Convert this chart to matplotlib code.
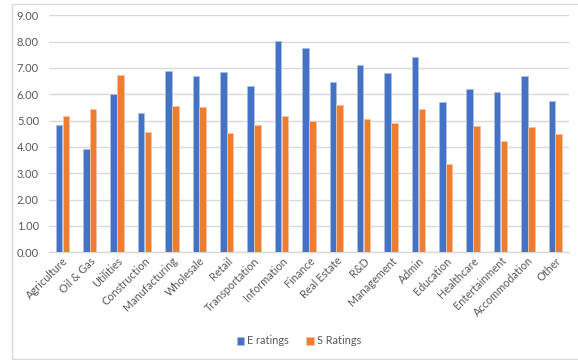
import matplotlib
matplotlib.use("Agg")
import matplotlib.pyplot as plt
from matplotlib.patches import Rectangle
import numpy as np

plt.rcParams['font.family'] = ['Lato', 'DejaVu Sans']

categories = ["Agriculture", "Oil & Gas", "Utilities", "Construction", "Manufacturing",
              "Wholesale", "Retail", "Transportation", "Information", "Finance",
              "Real Estate", "R&D", "Management", "Admin", "Education", "Healthcare",
              "Entertainment", "Accommodation", "Other"]
e_ratings = [4.85, 3.92, 6.03, 5.30, 6.88, 6.68, 6.86, 6.32, 8.03, 7.74,
             6.46, 7.11, 6.81, 7.43, 5.70, 6.20, 6.09, 6.70, 5.76]
s_ratings = [5.17, 5.43, 6.72, 4.56, 5.57, 5.52, 4.52, 4.83, 5.19, 5.00,
             5.58, 5.06, 4.91, 5.43, 3.37, 4.79, 4.24, 4.76, 4.48]
y_ticks = [0, 1, 2, 3, 4, 5, 6, 7, 8, 9]

blue = "#4472C4"
orange = "#ED7D31"
text_gray = "#595959"

fig = plt.figure(figsize=(5.78, 3.60), dpi=100)
# outer chart frame
fig.patches.append(Rectangle((11.5 / 578, 1 - 359 / 360), 1.2, 355 / 360,
                             transform=fig.transFigure, fill=False,
                             edgecolor="#D9D9D9", linewidth=1.0))

ax = fig.add_axes([48.7 / 578, 1 - 252.3 / 360, (569 - 48.7) / 578, (252.3 - 15.3) / 360])

x = np.arange(len(categories))
w = 0.24
ax.bar(x - 0.125, e_ratings, width=w, color=blue, edgecolor="#A9BEE6", linewidth=0.6,
       label="E ratings", zorder=3)
ax.bar(x + 0.125, s_ratings, width=w, color=orange, edgecolor="#F6C2A0", linewidth=0.6,
       label="S Ratings", zorder=3)

ax.set_xlim(-0.5, len(categories) - 0.5)
ax.set_ylim(0, 9)
ax.set_yticks(y_ticks)
ax.set_yticklabels([f"{v:.2f}" for v in y_ticks], color=text_gray, fontsize=8)
ax.yaxis.grid(True, color="#D9D9D9", linewidth=1.0, zorder=0)
ax.set_axisbelow(True)
ax.tick_params(axis="y", length=0, pad=7)
ax.tick_params(axis="x", length=0, pad=2)
ax.set_xticks(x)
ax.set_xticklabels(categories, rotation=45, ha="right", rotation_mode="anchor",
                   color=text_gray, fontsize=7.8)
for s in ["top", "right", "left"]:
    ax.spines[s].set_visible(False)
ax.spines["bottom"].set_color("#D9D9D9")
ax.spines["bottom"].set_linewidth(1.0)

fig.legend(loc="center", bbox_to_anchor=(299 / 578, 1 - 341 / 360), ncol=2, frameon=False,
           fontsize=7.8, handlelength=0.7, handleheight=0.7, handletextpad=0.3,
           columnspacing=1.6, labelcolor=text_gray)

fig.savefig("out.png", dpi=100, facecolor="white")
